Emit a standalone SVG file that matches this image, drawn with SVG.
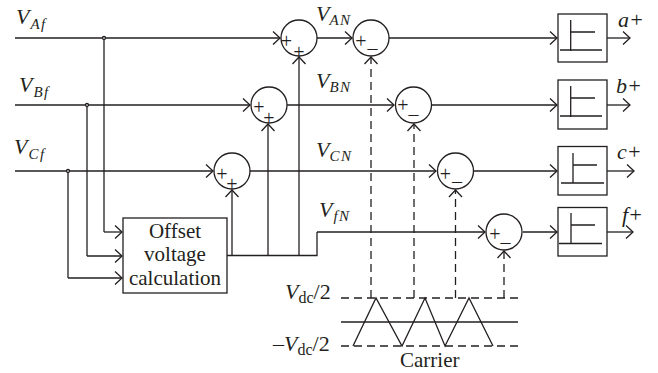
<svg xmlns="http://www.w3.org/2000/svg" width="658" height="373" viewBox="0 0 658 373">
<style>
text{font-family:"Liberation Serif","Times New Roman",serif;fill:#231f20}
.v{font-size:22px;font-style:italic}
.s{font-size:15px;font-style:italic;letter-spacing:1.5px}
.r{font-size:16px;font-style:normal}
.o{font-size:22px;font-style:normal}
.p{font-size:20px;text-anchor:middle}
.b{font-size:21px;text-anchor:middle}
.l{fill:none;stroke:#231f20;stroke-width:1.3}
.a{marker-end:url(#h)}
.d{stroke-dasharray:8 5}
.c{fill:#fff;stroke:#231f20;stroke-width:1.3}
</style>
<defs>
<marker id="h" markerUnits="userSpaceOnUse" markerWidth="12" markerHeight="16" refX="8" refY="8" orient="auto"><path d="M1 1.500L8 8L1 14.500" fill="none" stroke="#231f20" stroke-width="1.3"/></marker>
</defs>
<g id="connectors">
<path class="l a" d="M15 38H280"/>
<path class="l a" d="M15 105H250"/>
<path class="l a" d="M15 171H213"/>
<path class="l" d="M104 38V232"/>
<path class="l a" d="M104 232H122"/>
<path class="l" d="M87 105V256"/>
<path class="l a" d="M87 256H122"/>
<path class="l" d="M68 171V278"/>
<path class="l a" d="M68 278H122"/>
<path class="l" d="M227 255.500H317V232"/>
<path class="l a" d="M232 255V190"/>
<path class="l a" d="M268 255V124"/>
<path class="l a" d="M299 255V57"/>
<path class="l a" d="M317 38H352"/>
<path class="l a" d="M287 105H394"/>
<path class="l a" d="M250 171H436"/>
<path class="l a" d="M317 232H485"/>
<path class="l a" d="M389 38H557"/>
<path class="l a" d="M432 105H557"/>
<path class="l a" d="M474 171H557"/>
<path class="l a" d="M523 232H557"/>
<path class="l a" d="M607 38H630"/>
<path class="l a" d="M607 105H630"/>
<path class="l a" d="M607 171H634"/>
<path class="l a" d="M607 232H633"/>
<path class="l d a" d="M371 298V57"/>
<path class="l d a" d="M414 298V124"/>
<path class="l d a" d="M455.500 298V190"/>
<path class="l d a" d="M504 298V251"/>
<circle cx="104" cy="38" r="1.500" class="c"/>
<circle cx="87" cy="105" r="1.500" class="c"/>
<circle cx="68" cy="171" r="1.500" class="c"/>
</g>
<g id="sum-a"><circle class="c" cx="299" cy="38" r="18"/><text class="p" x="286.500" y="47.700">+</text><text class="p" x="299" y="58.700">+</text></g>
<g id="sum-b"><circle class="c" cx="269" cy="105" r="18"/><text class="p" x="259" y="113.700">+</text><text class="p" x="269" y="124.700">+</text></g>
<g id="sum-c"><circle class="c" cx="232" cy="171" r="18"/><text class="p" x="222" y="180.700">+</text><text class="p" x="232" y="190.700">+</text></g>
<g id="diff-a"><circle class="c" cx="371" cy="38" r="18"/><text class="p" x="361" y="47.700">+</text><text class="p" x="372.500" y="54.500">–</text></g>
<g id="diff-b"><circle class="c" cx="413.500" cy="105" r="18"/><text class="p" x="403" y="111.700">+</text><text class="p" x="413.500" y="121">–</text></g>
<g id="diff-c"><circle class="c" cx="455.500" cy="171" r="18"/><text class="p" x="445.500" y="180.700">+</text><text class="p" x="457" y="187.500">–</text></g>
<g id="diff-f"><circle class="c" cx="504" cy="232" r="18"/><text class="p" x="495" y="240.700">+</text><text class="p" x="505.500" y="249">–</text></g>
<g id="comp-a"><rect class="c" x="558" y="14" width="49" height="48"/><path class="l" d="M570.700 20V51M571 32H595M560 50H602"/></g>
<g id="comp-b"><rect class="c" x="558" y="80" width="49" height="49"/><path class="l" d="M570.700 86V117M571 98H595M560 116H602"/></g>
<g id="comp-c"><rect class="c" x="558" y="146.500" width="49" height="48.500"/><path class="l" d="M573 153V183M573 165H597M561 183H604"/></g>
<g id="comp-f"><rect class="c" x="558" y="207.500" width="49" height="48.500"/><path class="l" d="M571 213V244M571 225H595M559 243.500H602"/></g>
<g id="offset"><rect class="c" x="123" y="218" width="104" height="75"/><text class="b" x="175" y="238">Offset</text><text class="b" x="175" y="261">voltage</text><text class="b" x="175" y="285">calculation</text></g>
<g id="carrier">
<path class="l d" d="M341 298H518"/>
<path class="l d" d="M341 346H523"/>
<path class="l" d="M341 322H518"/>
<path class="l" d="M353 346L376 298L402 346L425 298L445 346L469 298L493 346"/>
<text x="400" y="367" style="font-size:21px">Carrier</text>
</g>
<g id="labels">
<text class="v" x="16" y="24">V<tspan class="s" dy="5" dx="1">Af</tspan></text>
<text class="v" x="19" y="92">V<tspan class="s" dy="5" dx="1">Bf</tspan></text>
<text class="v" x="14" y="154">V<tspan class="s" dy="5" dx="1">Cf</tspan></text>
<text class="v" x="316" y="21">V<tspan class="s" dy="4">AN</tspan></text>
<text class="v" x="316" y="88">V<tspan class="s" dy="4">BN</tspan></text>
<text class="v" x="316" y="157">V<tspan class="s" dy="4">CN</tspan></text>
<text class="v" x="319" y="217">V<tspan class="s" dy="4" dx="1">fN</tspan></text>
<text class="v" x="618" y="27">a+</text>
<text class="v" x="616" y="93">b+</text>
<text class="v" x="617" y="159">c+</text>
<text class="v" x="622" y="222">f+</text>
<text class="v" x="285" y="299">V<tspan class="r" dy="4">dc</tspan><tspan class="o" dy="-4">/2</tspan></text>
<text class="v" x="273" y="351"><tspan class="o">–</tspan>V<tspan class="r" dy="4">dc</tspan><tspan class="o" dy="-4">/2</tspan></text>
</g>
</svg>
